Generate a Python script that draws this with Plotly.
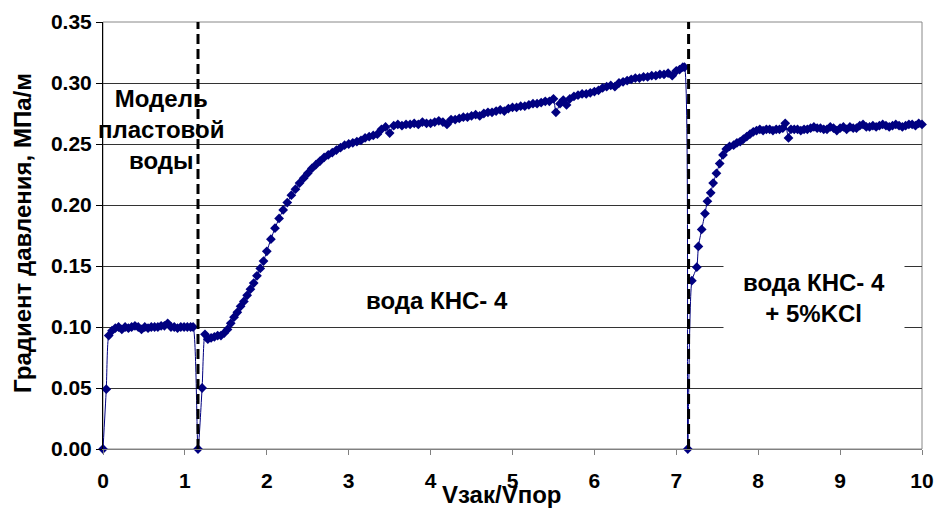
import plotly.graph_objects as go

# Stage 1: formation water model
x_stage1 = [0.00, 0.04, 0.07, 0.11, 0.15, 0.19, 0.23, 0.27, 0.31, 0.35, 0.39, 0.43, 0.47, 0.51,
            0.55, 0.59, 0.63, 0.67, 0.71, 0.75, 0.79, 0.83, 0.87, 0.91, 0.95, 0.99, 1.03, 1.07, 1.10]
y_stage1 = [0.000, 0.049, 0.093, 0.097, 0.099, 0.100, 0.098, 0.100, 0.099, 0.100, 0.101, 0.100, 0.098, 0.100,
            0.099, 0.100, 0.100, 0.100, 0.101, 0.101, 0.103, 0.100, 0.100, 0.099, 0.100, 0.100, 0.100, 0.100, 0.100]

# Stage 2: KNS-4 water
x_stage2 = [1.16, 1.21, 1.245, 1.28, 1.32, 1.36, 1.40, 1.44, 1.48, 1.52, 1.56, 1.60, 1.64, 1.68, 1.72,
            1.76, 1.80, 1.84, 1.88, 1.92, 1.96, 2.00, 2.05, 2.10, 2.15, 2.20, 2.25, 2.30, 2.35, 2.40,
            2.45, 2.50, 2.55, 2.60, 2.65, 2.70, 2.75, 2.80, 2.85, 2.90, 2.95, 3.00, 3.05, 3.10, 3.15,
            3.20, 3.25, 3.30, 3.35, 3.40, 3.45, 3.50, 3.55, 3.60, 3.65, 3.70, 3.75, 3.80, 3.85, 3.90,
            3.95, 4.00, 4.05, 4.10, 4.15, 4.20, 4.25, 4.30, 4.35, 4.40, 4.45, 4.50, 4.55, 4.60, 4.65,
            4.70, 4.75, 4.80, 4.85, 4.90, 4.95, 5.00, 5.05, 5.10, 5.15, 5.20, 5.25, 5.30, 5.35, 5.40,
            5.45, 5.50, 5.53, 5.58, 5.62, 5.66, 5.70, 5.75, 5.80, 5.85, 5.90, 5.95, 6.00, 6.05, 6.10,
            6.15, 6.20, 6.25, 6.30, 6.35, 6.40, 6.45, 6.50, 6.55, 6.60, 6.65, 6.70, 6.75, 6.80, 6.85,
            6.90, 6.95, 7.00, 7.04, 7.08, 7.10]
y_stage2 = [0.000, 0.050, 0.094, 0.090, 0.091, 0.092, 0.093, 0.093, 0.095, 0.098, 0.103, 0.108, 0.112, 0.117, 0.121,
            0.126, 0.131, 0.136, 0.142, 0.148, 0.154, 0.162, 0.172, 0.181, 0.189, 0.196, 0.202, 0.208, 0.213, 0.218,
            0.222, 0.226, 0.230, 0.233, 0.236, 0.239, 0.241, 0.243, 0.245, 0.247, 0.249, 0.250, 0.251, 0.252, 0.253,
            0.255, 0.256, 0.257, 0.258, 0.262, 0.264, 0.259, 0.265, 0.266, 0.265, 0.266, 0.266, 0.267, 0.266, 0.268,
            0.267, 0.267, 0.268, 0.269, 0.268, 0.266, 0.270, 0.270, 0.271, 0.272, 0.272, 0.273, 0.274, 0.273, 0.275,
            0.276, 0.276, 0.277, 0.278, 0.277, 0.279, 0.280, 0.280, 0.281, 0.281, 0.282, 0.283, 0.283, 0.284, 0.285,
            0.285, 0.287, 0.276, 0.283, 0.286, 0.282, 0.287, 0.289, 0.290, 0.291, 0.291, 0.292, 0.293, 0.294, 0.296,
            0.297, 0.298, 0.297, 0.300, 0.301, 0.302, 0.303, 0.304, 0.304, 0.305, 0.305, 0.306, 0.306, 0.307, 0.307,
            0.308, 0.306, 0.310, 0.311, 0.313, 0.313]

# Stage 3: KNS-4 water + 5% KCl
x_stage3 = [7.14, 7.19, 7.25, 7.27, 7.31, 7.35, 7.38, 7.42, 7.45, 7.49, 7.53, 7.57, 7.61, 7.65, 7.70,
            7.74, 7.78, 7.82, 7.86, 7.90, 7.94, 7.98, 8.02, 8.06, 8.10, 8.14, 8.18, 8.22, 8.26, 8.30,
            8.33, 8.37, 8.40, 8.44, 8.48, 8.52, 8.56, 8.60, 8.64, 8.68, 8.72, 8.76, 8.80, 8.84, 8.88,
            8.92, 8.96, 9.00, 9.04, 9.08, 9.12, 9.16, 9.20, 9.24, 9.28, 9.32, 9.36, 9.40, 9.44, 9.48,
            9.52, 9.56, 9.60, 9.64, 9.68, 9.72, 9.76, 9.80, 9.84, 9.88, 9.92, 9.96, 10.00]
y_stage3 = [0.000, 0.138, 0.149, 0.166, 0.180, 0.193, 0.203, 0.210, 0.218, 0.226, 0.234, 0.241, 0.246, 0.248, 0.249,
            0.251, 0.252, 0.254, 0.256, 0.258, 0.260, 0.261, 0.262, 0.261, 0.262, 0.262, 0.261, 0.262, 0.262, 0.263,
            0.267, 0.255, 0.262, 0.262, 0.262, 0.261, 0.262, 0.262, 0.263, 0.264, 0.263, 0.263, 0.262, 0.262, 0.264,
            0.263, 0.261, 0.263, 0.264, 0.262, 0.264, 0.263, 0.263, 0.265, 0.266, 0.264, 0.264, 0.265, 0.264, 0.265,
            0.266, 0.265, 0.264, 0.265, 0.266, 0.265, 0.264, 0.265, 0.266, 0.266, 0.265, 0.267, 0.266]

x_all = x_stage1 + x_stage2 + x_stage3
y_all = y_stage1 + y_stage2 + y_stage3

boundaries = [1.16, 7.15]
y_ticks = [0.00, 0.05, 0.10, 0.15, 0.20, 0.25, 0.30, 0.35]
x_ticks = [0, 1, 2, 3, 4, 5, 6, 7, 8, 9, 10]

FONT = "Liberation Sans, Arial, sans-serif"
NAVY = "#000080"

fig = go.Figure()
fig.add_trace(go.Scatter(
    x=x_all, y=y_all, mode="lines+markers",
    line=dict(color=NAVY, width=1, shape="spline", smoothing=0.6),
    marker=dict(symbol="diamond", size=7.5, color=NAVY, line=dict(width=0)),
    cliponaxis=False, showlegend=False,
))

shapes = [dict(type="rect", xref="paper", yref="paper", x0=0, x1=1, y0=0, y1=1,
               line=dict(color="#888888", width=1), layer="below")]
for b in boundaries:
    shapes.append(dict(type="line", xref="x", yref="y", x0=b, x1=b, y0=0, y1=0.35,
                       line=dict(color="black", width=3, dash="10px,5px"), layer="above"))

ann_font = dict(family=FONT, size=24, color="black", weight="bold")
title_font = dict(family=FONT, size=24, color="black", weight="bold")
annotations = [
    dict(x=0.71, y=0.2615, xref="x", yref="y", text="Модель<br>пластовой<br>воды",
         showarrow=False, font=ann_font, align="center"),
    dict(x=4.08, y=0.122, xref="x", yref="y", text="вода КНС- 4",
         showarrow=False, font=ann_font),
    dict(x=8.68, y=0.124, xref="x", yref="y", text="вода КНС- 4<br>+ 5%KCl",
         showarrow=False, font=ann_font, bgcolor="white", width=178, height=78, align="center"),
    dict(x=-0.0977, y=0.506, xref="paper", yref="paper", text="Градиент давления, МПа/м",
         textangle=-90, showarrow=False, font=title_font, xanchor="center", yanchor="middle"),
    dict(x=0.486, y=-0.1065, xref="paper", yref="paper", text="Vзак/Vпор",
         showarrow=False, font=title_font, xanchor="center", yanchor="middle"),
]

tick_font = dict(family=FONT, size=21, color="black", weight="bold")
fig.update_layout(
    width=936, height=509,
    margin=dict(l=103, r=14, t=22, b=60, autoexpand=False),
    paper_bgcolor="white", plot_bgcolor="white",
    shapes=shapes, annotations=annotations,
    xaxis=dict(range=[0, 10], tickvals=x_ticks, ticks="outside", ticklen=5, tickcolor="#808080",
               showline=True, linecolor="#808080", linewidth=1, showgrid=False, zeroline=False,
               tickfont=tick_font, automargin=False, ticklabelstandoff=8),
    yaxis=dict(range=[0, 0.35], tickvals=y_ticks, tickformat=".2f", ticks="outside", ticklen=6,
               tickcolor="black", showline=True, linecolor="black", linewidth=1,
               showgrid=True, gridcolor="#333333", gridwidth=1, zeroline=False,
               tickfont=tick_font, automargin=False),
)

fig.write_html("out.html")
